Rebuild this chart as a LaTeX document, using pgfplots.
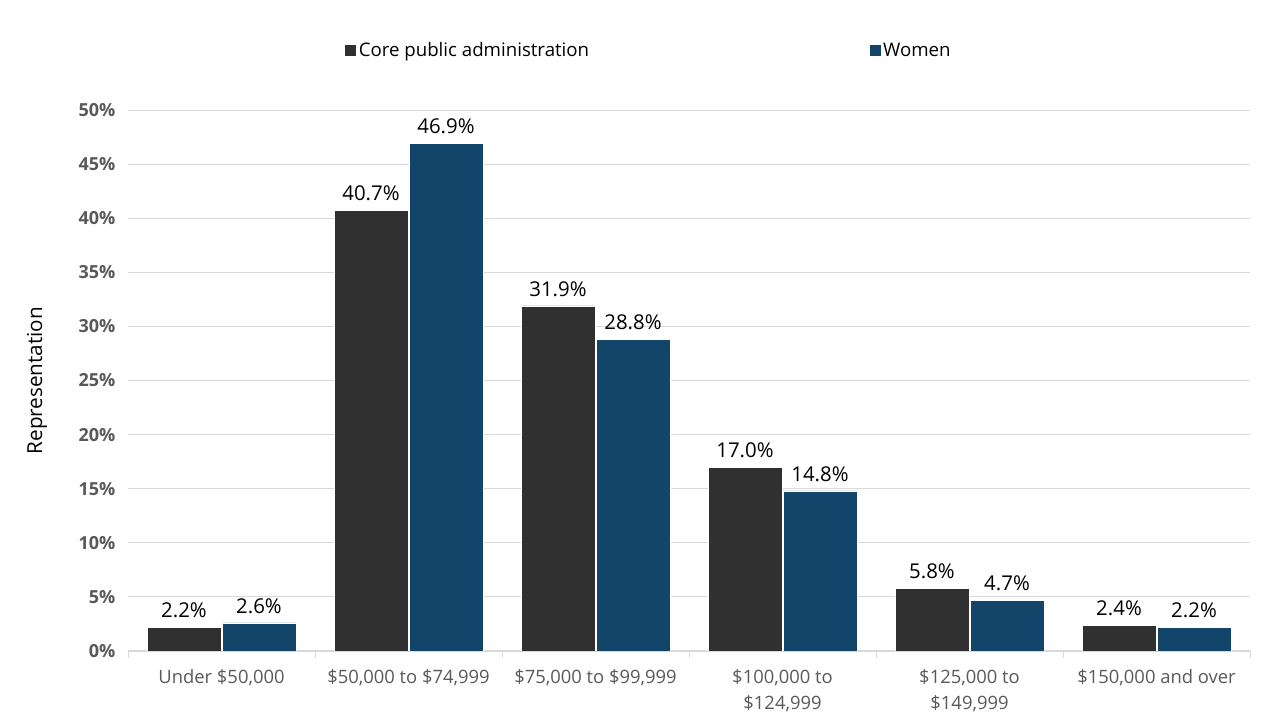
\documentclass[border=0pt]{standalone}
\usepackage{pgfplots}
\pgfplotsset{compat=1.18}
\usepackage{fontspec}
\setmainfont{Open Sans}
\definecolor{cpa}{HTML}{303030}
\definecolor{women}{HTML}{134469}
\definecolor{gridc}{HTML}{D9D9D9}
\definecolor{tickc}{HTML}{595959}
\begin{document}
\begin{tikzpicture}
\useasboundingbox (0pt,0pt) rectangle (960pt,540pt);
\begin{axis}[
  at={(96pt,51.75pt)}, anchor=south west,
  scale only axis, width=841.5pt, height=405.75pt,
  ybar=0.75pt, bar width=55.5pt,
  xmin=-0.5, xmax=5.5, ymin=0, ymax=50,
  xtick={0,...,5},
  xticklabels={{Under \$50,000},{\$50,000 to \$74,999},{\$75,000 to \$99,999},{\$100,000 to\\\$124,999},{\$125,000 to\\\$149,999},{\$150,000 and over}},
  xticklabel style={font=\fontsize{13.8}{19.5}\selectfont, text=tickc, align=center, anchor=north, yshift=-10pt},
  minor xtick={-0.5,0.5,...,5.5},
  major tick length=0pt,
  minor tick length=5pt,
  tick style={draw=gridc},
  ytick={0,5,...,50},
  yticklabel={\pgfmathprintnumber{\tick}\%},
  yticklabel style={font=\bfseries\fontsize{13.5}{15}\selectfont, text=tickc, xshift=-6pt},
  /pgf/number format/assume math mode=true,
  ymajorgrids, grid style={draw=gridc, line width=0.6pt},
  axis x line*=bottom, axis y line*=left,
  y axis line style={draw=none},
  x axis line style={draw=gridc, line width=0.8pt, -},
  ylabel={Representation},
  ylabel style={font=\fontsize{15.5}{18}\selectfont, at={(axis description cs:-0.068,0.5)}},
  nodes near coords={\pgfmathprintnumber[fixed,fixed zerofill,precision=1]{\pgfplotspointmeta}\%},
  nodes near coords style={font=\fontsize{15.3}{18}\selectfont, text=black, yshift=3.5pt},
  every axis plot/.append style={draw=white, line width=0.4pt},
  legend style={at={(axis description cs:0.19,1.11)}, anchor=west, draw=none, fill=none,
    legend columns=2, font=\fontsize{14}{16}\selectfont,
    /tikz/every even column/.append style={column sep=2.5pt}},
  legend image code/.code={\fill[#1, draw=none] (0pt,-4pt) rectangle (8pt,4pt);},
]
\addplot[fill=cpa] coordinates {(0,2.2) (1,40.7) (2,31.9) (3,17.0) (4,5.8) (5,2.4)};
\addlegendentry{Core public administration\hspace*{206pt}}
\addplot[fill=women] coordinates {(0,2.6) (1,46.9) (2,28.8) (3,14.8) (4,4.7) (5,2.2)};
\addlegendentry{Women}
\end{axis}
\end{tikzpicture}
\end{document}
